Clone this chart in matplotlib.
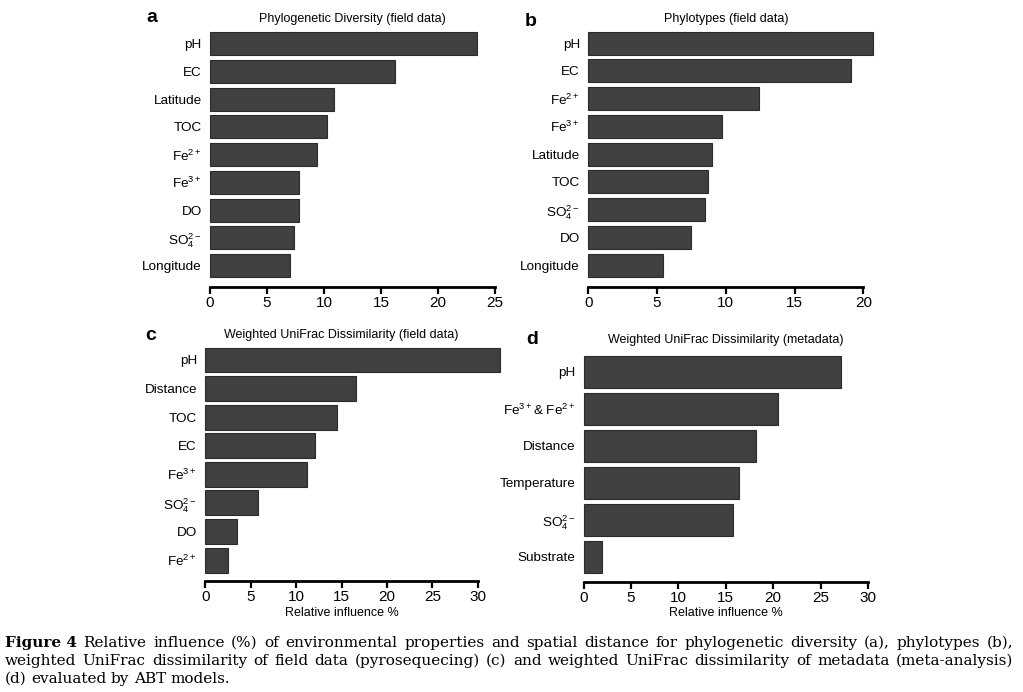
import matplotlib
matplotlib.use('Agg')
import matplotlib.pyplot as plt

plt.rcParams['font.family'] = ['Liberation Sans', 'DejaVu Sans']
plt.rcParams['mathtext.fontset'] = 'custom'
plt.rcParams['mathtext.rm'] = 'Liberation Sans'
plt.rcParams['mathtext.it'] = 'Liberation Sans:italic'
plt.rcParams['mathtext.bf'] = 'Liberation Sans:bold'

W, H = 1023, 692

# panel a: phylogenetic diversity
a_labels = ['pH', 'EC', 'Latitude', 'TOC', 'Fe$^{2+}$', 'Fe$^{3+}$', 'DO',
            'SO$_4^{2-}$', 'Longitude']
a_values = [23.4, 16.2, 10.9, 10.3, 9.4, 7.8, 7.8, 7.4, 7.0]

# panel b: phylotypes
b_labels = ['pH', 'EC', 'Fe$^{2+}$', 'Fe$^{3+}$', 'Latitude', 'TOC',
            'SO$_4^{2-}$', 'DO', 'Longitude']
b_values = [20.7, 19.1, 12.4, 9.75, 9.0, 8.7, 8.5, 7.5, 5.4]

# panel c: weighted unifrac, field data
c_labels = ['pH', 'Distance', 'TOC', 'EC', 'Fe$^{3+}$', 'SO$_4^{2-}$', 'DO',
            'Fe$^{2+}$']
c_values = [32.5, 16.6, 14.5, 12.1, 11.2, 5.8, 3.5, 2.5]

# panel d: weighted unifrac, metadata
d_labels = ['pH', 'Fe$^{3+}$& Fe$^{2+}$', 'Distance', 'Temperature',
            'SO$_4^{2-}$', 'Substrate']
d_values = [27.1, 20.5, 18.2, 16.4, 15.8, 1.9]

fig = plt.figure(figsize=(W / 100, H / 100), dpi=100)


def panel(box, labels, values, xmax, step, pad, h, title, title_y,
          letter, letter_xy, xlabel=False):
    left, right, top, bottom = box
    ax = fig.add_axes([left / W, 1 - bottom / H, (right - left) / W,
                       (bottom - top) / H])
    n = len(values)
    ax.barh(range(n), values, height=h, color='#404040', edgecolor='#2b2b2b',
            linewidth=0.8, clip_on=False)
    ax.set_ylim(n - 1 + pad, -h / 2)
    ax.set_xlim(0, xmax)
    ax.set_xticks(range(0, xmax + 1, step))
    ax.set_yticks(range(n))
    ax.set_yticklabels(labels, fontsize=9.7)
    for s in ['top', 'right', 'left']:
        ax.spines[s].set_visible(False)
    ax.spines['bottom'].set_linewidth(2)
    ax.tick_params(axis='x', direction='out', length=5, width=1.6,
                   labelsize=11, pad=1.5)
    ax.tick_params(axis='y', length=0, pad=6)
    cx = (left + right) / 2
    fig.text(cx / W, 1 - title_y / H, title, ha='center', va='center',
             fontsize=9)
    fig.text(letter_xy[0] / W, 1 - letter_xy[1] / H, letter, ha='left',
             va='center', fontsize=14, fontweight='bold')
    if xlabel:
        fig.text(cx / W, 1 - 613 / H, 'Relative influence %', ha='center',
                 va='center', fontsize=9)
    return ax


panel((210, 495, 32, 287), a_labels, a_values, 25, 5, 0.77, 0.83,
      'Phylogenetic Diversity (field data)', 19, 'a', (146, 18))
panel((588.3, 863.3, 31.6, 287), b_labels, b_values, 20, 5, 0.79, 0.83,
      'Phylotypes (field data)', 19, 'b', (525, 21))
panel((205.3, 477.7, 347.5, 581), c_labels, c_values, 30, 5, 0.73, 0.87,
      'Weighted UniFrac Dissimilarity (field data)', 335, 'c', (145, 335),
      xlabel=True)
panel((583.7, 868, 356.2, 581.7), d_labels, d_values, 30, 5, 0.67, 0.85,
      'Weighted UniFrac Dissimilarity (metadata)', 340, 'd', (526, 339),
      xlabel=True)

# caption, justified by hand
cap = [
    ('Figure 4 Relative influence (%) of environmental properties and spatial '
     'distance for phylogenetic diversity (a), phylotypes (b),', 647, True),
    ('weighted UniFrac dissimilarity of field data (pyrosequecing) (c) and '
     'weighted UniFrac dissimilarity of metadata (meta-analysis)', 665, True),
    ('(d) evaluated by ABT models.', 683, False),
]
r = fig.canvas.get_renderer()
for i, (line, y, just) in enumerate(cap):
    words = line.split(' ')
    if i == 0:
        words = ['Figure 4'] + words[2:]
    texts = []
    for j, w in enumerate(words):
        bold = (i == 0 and j == 0)
        t = fig.text(0, 1 - y / H, w, ha='left', va='baseline', fontsize=11,
                     family='DejaVu Serif',
                     fontweight='bold' if bold else 'normal')
        texts.append(t)
    widths = [t.get_window_extent(renderer=r).width for t in texts]
    if just:
        gap = (1013 - 5 - sum(widths)) / (len(words) - 1)
    else:
        gap = 4.5
    x = 5
    for t, wd in zip(texts, widths):
        t.set_x(x / W)
        x += wd + gap

fig.savefig('out.png', dpi=100)
